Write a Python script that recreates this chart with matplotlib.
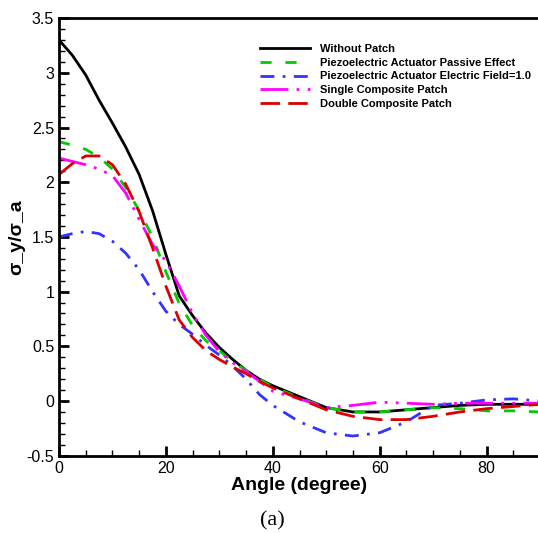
import numpy as np
import matplotlib.pyplot as plt
from matplotlib.ticker import MultipleLocator

plt.rcParams['font.family'] = ['Liberation Sans', 'DejaVu Sans']

angle = [0, 2.5, 5, 7.5, 10, 12.5, 15, 17.5, 20, 22.5, 25, 27.5, 30, 32.5, 35,
         37.5, 40, 45, 50, 55, 60, 65, 70, 75, 80, 85, 90]
without_patch = [3.30, 3.16, 2.98, 2.75, 2.54, 2.32, 2.07, 1.74, 1.34, 0.96, 0.78,
                 0.62, 0.49, 0.38, 0.28, 0.20, 0.14, 0.04, -0.06, -0.10, -0.10,
                 -0.08, -0.06, -0.04, -0.03, -0.03, -0.03]
passive = [2.37, 2.34, 2.30, 2.23, 2.12, 1.95, 1.74, 1.50, 1.18, 0.89, 0.69,
           0.55, 0.46, 0.36, 0.28, 0.20, 0.13, 0.03, -0.06, -0.10, -0.10,
           -0.08, -0.06, -0.07, -0.09, -0.09, -0.10]
electric = [1.50, 1.53, 1.55, 1.53, 1.46, 1.35, 1.20, 1.00, 0.82, 0.70, 0.61,
            0.51, 0.42, 0.32, 0.20, 0.06, -0.04, -0.19, -0.29, -0.32, -0.29,
            -0.19, -0.04, -0.02, 0.01, 0.02, 0.00]
single = [2.22, 2.19, 2.16, 2.12, 2.06, 1.90, 1.66, 1.43, 1.28, 1.05, 0.80,
          0.60, 0.45, 0.35, 0.27, 0.18, 0.09, 0.02, -0.06, -0.04, -0.01,
          -0.02, -0.03, -0.02, -0.02, -0.02, -0.02]
double = [2.07, 2.17, 2.24, 2.24, 2.16, 1.98, 1.73, 1.40, 1.05, 0.74, 0.58,
          0.46, 0.38, 0.31, 0.25, 0.18, 0.12, 0.02, -0.08, -0.14, -0.17,
          -0.17, -0.14, -0.10, -0.07, -0.05, -0.03]

fig = plt.figure(figsize=(5.38, 5.33), dpi=100)
ax = fig.add_axes([0.1097, 0.145, 0.894, 0.821])

ax.plot(angle, without_patch, color="black", linewidth=2, label="Without Patch")
ax.plot(angle, passive, color="#00cc00", linewidth=2, dashes=(4, 5),
        label="Piezoelectric Actuator Passive Effect")
ax.plot(angle, electric, color="#3333ff", linewidth=2, dashes=(5, 3, 1, 3),
        label="Piezoelectric Actuator Electric Field=1.0")
ax.plot(angle, single, color="#ff00ff", linewidth=2, dashes=(10, 3, 1, 3, 1, 3),
        label="Single Composite Patch")
ax.plot(angle, double, color="#dd0000", linewidth=2, dashes=(7, 3),
        label="Double Composite Patch")

ax.set_xlim(0, 90)
ax.set_ylim(-0.5, 3.5)
ax.xaxis.set_major_locator(MultipleLocator(20))
ax.xaxis.set_minor_locator(MultipleLocator(5))
ax.yaxis.set_major_locator(MultipleLocator(0.5))
ax.yaxis.set_minor_locator(MultipleLocator(0.1))
ax.tick_params(which="major", direction="in", length=7, width=2, labelsize=11.5)
ax.tick_params(which="minor", direction="in", length=4, width=1)
ax.yaxis.set_major_formatter(plt.FuncFormatter(lambda v, p: "%g" % v))
for s in ax.spines.values():
    s.set_linewidth(2)

ax.set_xlabel("Angle (degree)", fontsize=14, fontweight="bold", labelpad=1)
ax.set_ylabel("σ_y/σ_a", fontsize=14, fontweight="bold", labelpad=1)

fig.legend(loc="upper left", bbox_to_anchor=(0.484, 0.918), frameon=False,
           prop={"size": 8, "weight": "bold"}, handlelength=4.5,
           handletextpad=0.9, labelspacing=0.35, borderpad=0, borderaxespad=0)

fig.text(0.506, 0.014, "(a)", fontsize=16, family="Liberation Serif", ha="center")

plt.savefig("out.png", dpi=100)
